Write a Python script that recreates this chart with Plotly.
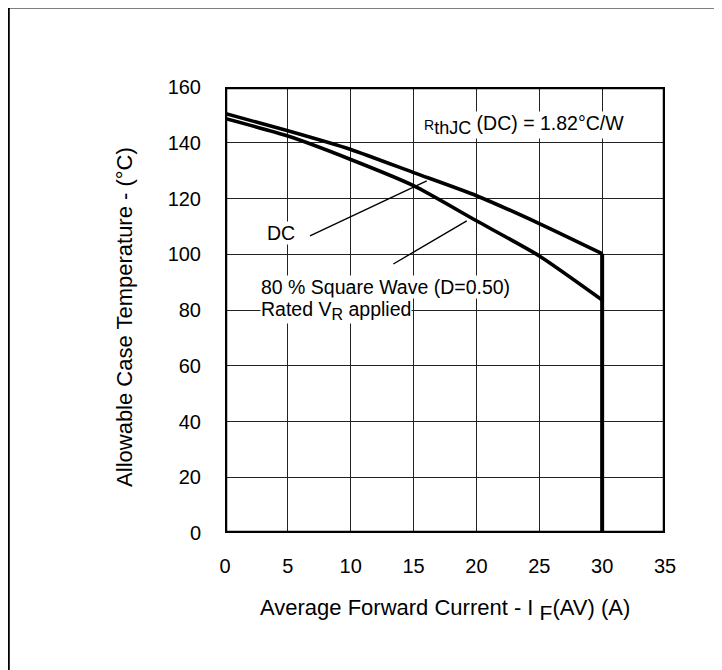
import plotly.graph_objects as go

# Data
current_a = [0, 5, 10, 15, 20, 25, 30]
dc_temp = [150.5, 144.3, 137.6, 129.3, 121.0, 111.0, 100.2]
square_temp = [148.7, 142.4, 134.0, 124.6, 112.0, 99.4, 83.6]
limit_x = [30, 30]
limit_y = [100.2, 0]

x_ticks = [0, 5, 10, 15, 20, 25, 30, 35]
y_ticks = [0, 20, 40, 60, 80, 100, 120, 140, 160]

FONT = "Liberation Sans, Arial, Helvetica, sans-serif"

fig = go.Figure()
fig.add_trace(go.Scatter(x=current_a, y=dc_temp, mode="lines",
                         line=dict(color="black", width=3.6, shape="spline", smoothing=0.6),
                         name="DC", showlegend=False, hoverinfo="skip"))
fig.add_trace(go.Scatter(x=current_a, y=square_temp, mode="lines",
                         line=dict(color="black", width=3.6, shape="spline", smoothing=0.6),
                         name="80 % Square Wave", showlegend=False, hoverinfo="skip"))
fig.add_trace(go.Scatter(x=limit_x, y=limit_y, mode="lines",
                         line=dict(color="black", width=4),
                         showlegend=False, hoverinfo="skip"))

# plot frame
fig.add_shape(type="rect", xref="x", yref="y", x0=0, x1=35, y0=0, y1=160,
              line=dict(color="black", width=4.5), layer="above")
# outer page border
fig.add_shape(type="rect", xref="paper", yref="paper", x0=-0.4914, x1=1.3, y0=-0.5, y1=1.178,
              line=dict(color="black", width=2), layer="above")
# leader lines
fig.add_shape(type="line", xref="x", yref="y", x0=6.76, y0=106.6, x1=16.05, y1=126.3,
              line=dict(color="black", width=1.4))
fig.add_shape(type="line", xref="x", yref="y", x0=13.39, y0=96.5, x1=19.23, y1=112.0,
              line=dict(color="black", width=1.4))

ann_font = dict(family=FONT, size=19.5, color="black")
title_font = dict(family=FONT, size=22, color="black")
fig.add_annotation(x=4.49, y=107.5, xref="x", yref="y", text="DC", showarrow=False,
                   font=ann_font, bgcolor="white", borderpad=0)
fig.add_annotation(x=2.78, y=88.2, xref="x", yref="y", xanchor="left",
                   text="80 % Square Wave (D=0.50)", showarrow=False,
                   font=ann_font, bgcolor="white", borderpad=0)
fig.add_annotation(x=2.78, y=79.8, xref="x", yref="y", xanchor="left", yanchor="middle",
                   text="Rated V<sub><span style='font-size:16px'>R</span></sub> applied", showarrow=False,
                   font=ann_font, bgcolor="white", borderpad=0)
fig.add_annotation(x=15.77, y=146.5, xref="x", yref="y", xanchor="left",
                   text="<span style='font-size:14px'>R</span><sub><span style='font-size:18px'>thJC</span></sub> (DC) = 1.82°C/W",
                   showarrow=False, font=ann_font, bgcolor="white", borderpad=0)

# axis titles
fig.add_annotation(x=-0.229, y=0.485, xref="paper", yref="paper", textangle=-90,
                   xanchor="center", yanchor="middle",
                   text="Allowable Case Temperature - (°C)", showarrow=False,
                   font=title_font)
fig.add_annotation(x=0.4993, y=-0.172, xref="paper", yref="paper",
                   xanchor="center", yanchor="middle",
                   text="Average Forward Current - I <sub><span style='font-size:21px'>F</span></sub>(AV) (A)",
                   showarrow=False, font=title_font)

axis_common = dict(showgrid=True, gridcolor="#222", gridwidth=1, zeroline=False,
                   showline=False, ticks="", tickfont=dict(family=FONT, size=20, color="black"))
fig.update_xaxes(range=[0, 35], tickvals=x_ticks, ticklabelstandoff=19, **axis_common)
fig.update_yaxes(range=[0, 160], tickvals=y_ticks, ticklabelstandoff=23, **axis_common)

# page body has an 8px margin, so the figure is 8px smaller and margins shifted
fig.update_layout(width=714, height=662, margin=dict(l=217, r=57, t=79, b=137),
                  paper_bgcolor="white", plot_bgcolor="white",
                  font=dict(family=FONT, color="black"), showlegend=False)

fig.write_html("out.html")
